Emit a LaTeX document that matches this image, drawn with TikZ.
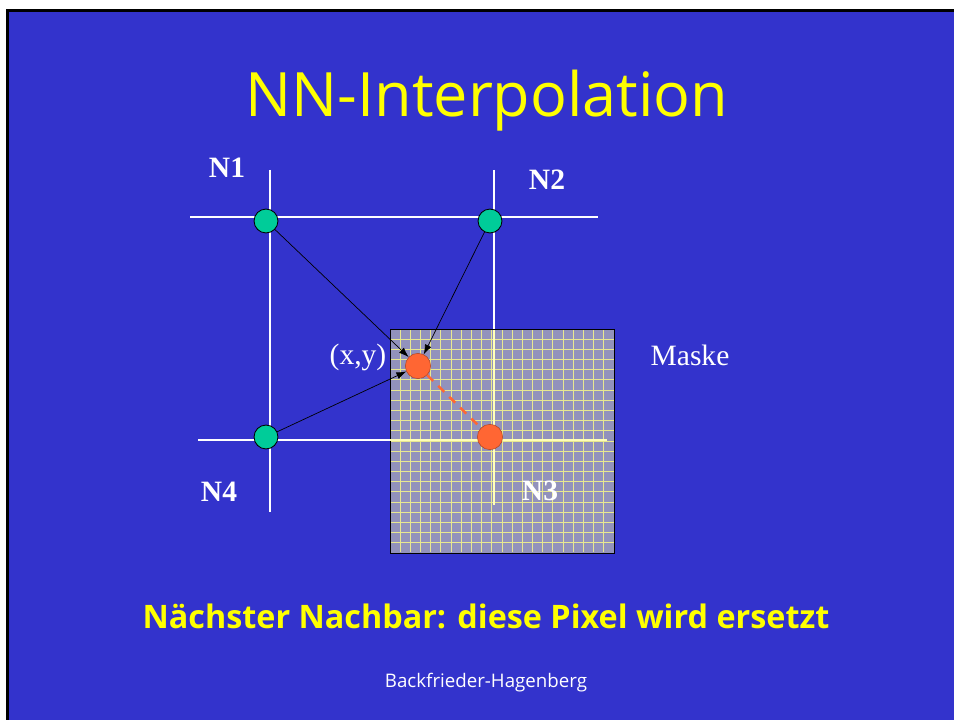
\documentclass[tikz,border=0pt]{standalone}
\usepackage{fontspec}
\usepackage{tikz}
\usetikzlibrary{arrows.meta}
\setmainfont{Liberation Serif}
\newfontfamily\slidefont{Open Sans}
\definecolor{slideblue}{HTML}{3333CC}
\definecolor{slideyellow}{HTML}{FFFF00}
\definecolor{nodegreen}{HTML}{00CC99}
\definecolor{pixorange}{HTML}{FF6633}
\definecolor{maskfill}{HTML}{9292BC}
\definecolor{maskgrid}{HTML}{E8E890}
\definecolor{maskcross}{HTML}{FFFFB8}
\tikzset{
  gridline/.style={white, line width=2.1pt},
  crossline/.style={maskcross, line width=2.1pt},
  greendot/.style={circle, draw=black, line width=0.6pt, fill=nodegreen,
                   minimum size=17pt, inner sep=0pt},
  orangedot/.style={circle, draw=pixorange!70!black, line width=0.4pt, fill=pixorange,
                    minimum size=18pt, inner sep=0pt},
  nlabel/.style={text=white, font=\bfseries\fontsize{21}{24}\selectfont},
  plainlabel/.style={text=white, font=\fontsize{21}{24}\selectfont},
  pointer/.style={-{Latex[length=7pt,width=5pt]}, black, line width=0.5pt},
}

\begin{document}
\begin{tikzpicture}[x=0.025cm, y=-0.025cm]
    \useasboundingbox (0,0) rectangle (954,720);
    \fill[white] (0,0) rectangle (954,720);
    \fill[black] (6,9) rectangle (954,720);
    \fill[slideblue] (9,12) rectangle (954,720);
    \node[text=slideyellow, font=\slidefont\fontsize{43.5}{50}\selectfont] (title) at (487,101) {NN-Interpolation};
    \draw[gridline] (270,170) -- (270,512);
    \draw[gridline] (494,170) -- (494,335);
    \draw[gridline] (190,217) -- (598,217);
    \draw[gridline] (198,440) -- (395,440);
    \draw[black, line width=0.6pt, fill=maskfill] (390,329) rectangle (614,553);
    \foreach \i in {1,...,21}
      \draw[maskgrid, line width=0.6pt] (390+\i*10.18,329.5) -- (390+\i*10.18,552.5)
                                        (390.5,329+\i*10.18) -- (613.5,329+\i*10.18);
    \draw[black, line width=0.6pt] (390,329) rectangle (614,553);
    \draw[crossline] (494,330) -- (494,505);
    \draw[crossline] (390,440) -- (607,440);
    \node[greendot] (n1) at (266,221) {};
    \node[greendot] (n2) at (490,221) {};
    \node[greendot] (n4) at (266,437) {};
    \node[orangedot] (xy) at (418,366) {};
    \node[orangedot] (n3) at (490,437) {};
    \draw[pointer] (n1) -- (xy);
    \draw[pointer] (n2) -- (xy);
    \draw[pointer] (n4) -- (xy);
    \draw[pixorange, line width=1.8pt, dash pattern=on 6pt off 5pt] (xy) -- (n3);
    \node[nlabel] (l1) at (227,168) {N1};
    \node[nlabel] (l2) at (547,180) {N2};
    \node[nlabel] (l4) at (219,492) {N4};
    \node[nlabel] (l3) at (540,491) {N3};
    \node[plainlabel] (lxy) at (358,357) {(x,y)};
    \node[plainlabel] (mask) at (690,355) {Maske};
    \node[text=slideyellow, font=\slidefont\bfseries\fontsize{23}{28}\selectfont] (caption) at (486,616) {Nächster Nachbar: diese Pixel wird ersetzt};
    \node[text=white, font=\slidefont\fontsize{13.3}{16}\selectfont] (footer) at (486,683) {Backfrieder-Hagenberg};
  \end{tikzpicture}
\end{document}
